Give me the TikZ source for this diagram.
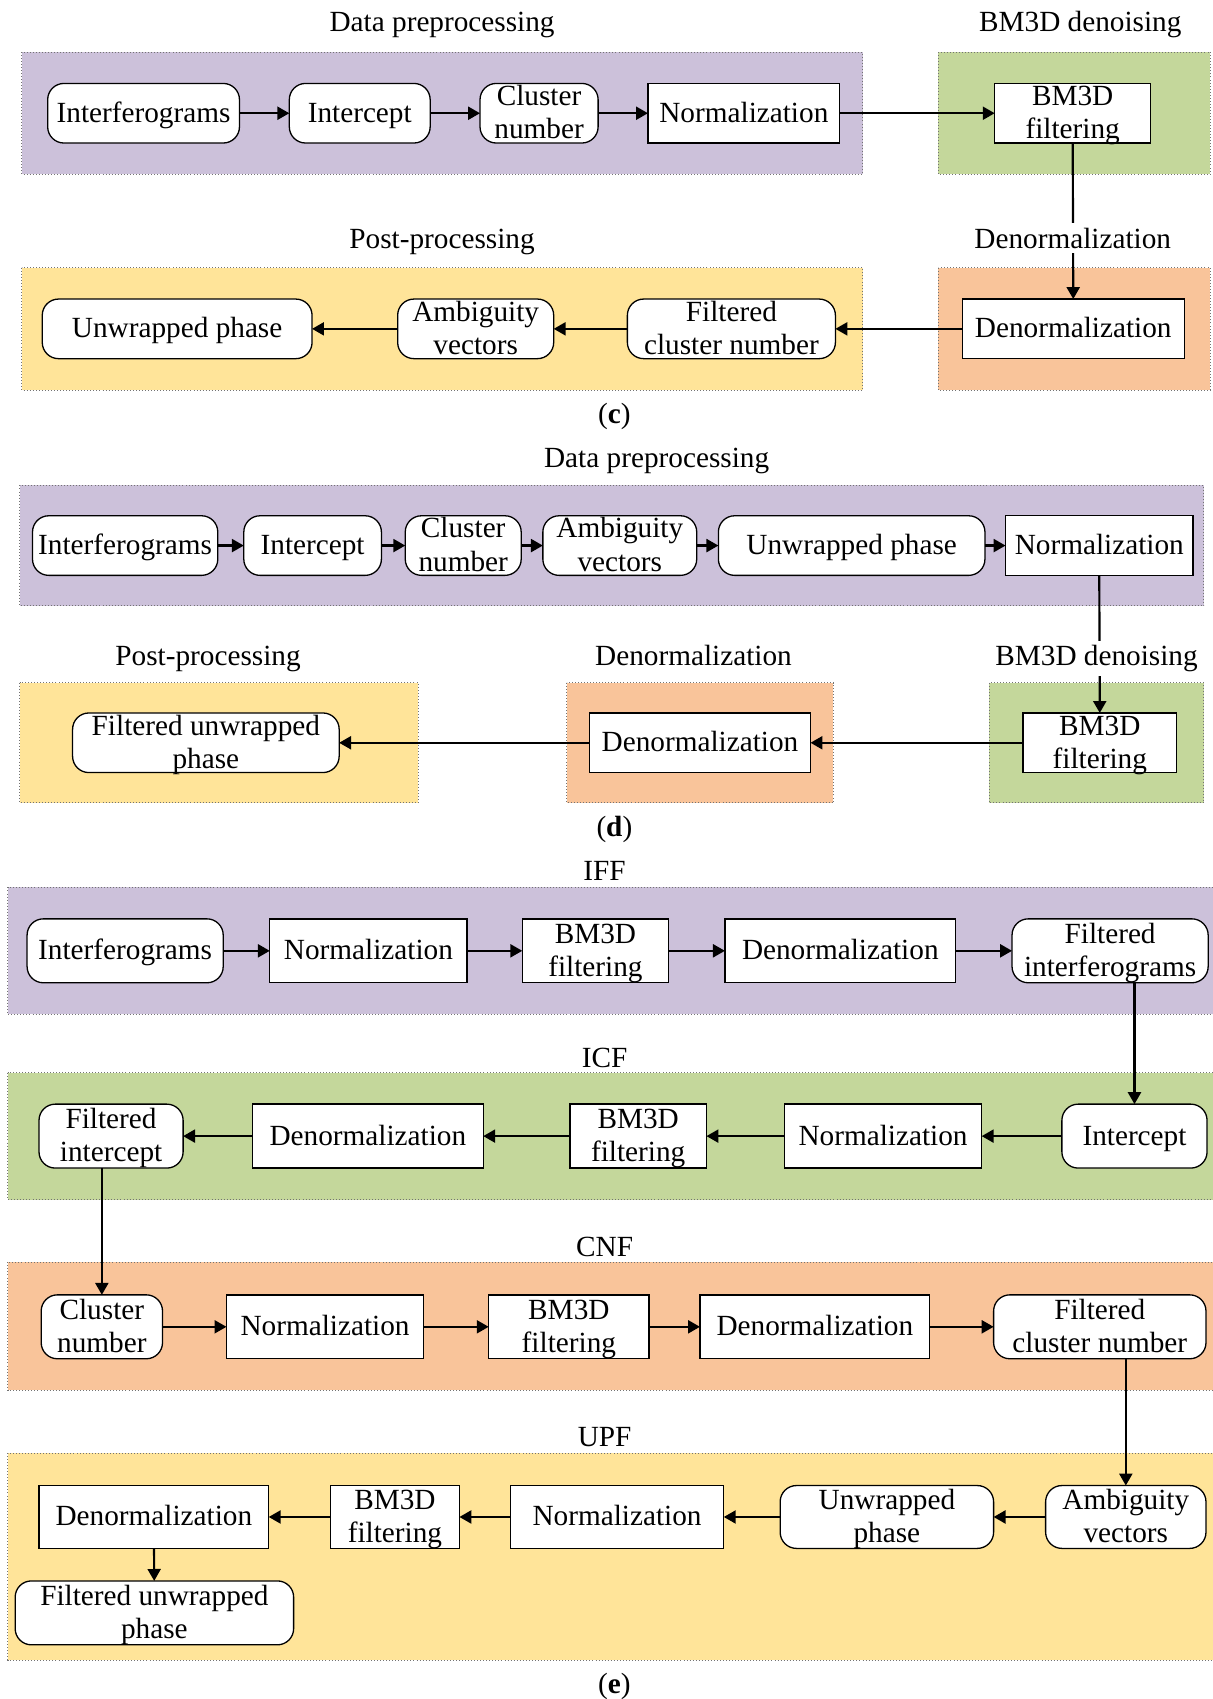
\documentclass[tikz,border=0pt]{standalone}
\usepackage{fontspec}
\setmainfont{Liberation Serif}
\usetikzlibrary{arrows.meta}
\definecolor{cpurple}{HTML}{CCC1DA}
\definecolor{cgreen}{HTML}{C4D79B}
\definecolor{corange}{HTML}{F9C49A}
\definecolor{cyellow}{HTML}{FFE499}
\newcommand\fsz{\fontsize{27pt}{32pt}\selectfont}
% one-line box: style, name, x1, x2, y1, y2, text
\newcommand\bxa[7]{%
  \node[#1,minimum width={(#4-#3)*1pt},minimum height={(#6-#5)*1pt}] (#2) at ({(#3+#4)/2},{(#5+#6)/2}) {};
  \node[txt] (#2-t) at ({(#3+#4)/2},{(#5+#6)/2+8.3}) {#7};}
% two-line box: style, name, x1, x2, y1, y2, line 1, line 2
\newcommand\bxb[8]{%
  \node[#1,minimum width={(#4-#3)*1pt},minimum height={(#6-#5)*1pt}] (#2) at ({(#3+#4)/2},{(#5+#6)/2}) {};
  \node[txt] (#2-a) at ({(#3+#4)/2},{(#5+#6)/2-7}) {#7};
  \node[txt] (#2-b) at ({(#3+#4)/2},{(#5+#6)/2+23.7}) {#8};}
\tikzset{
  base box/.style={draw, fill=white, line width=1.2pt, inner sep=0pt, outer sep=0pt},
  rb/.style={base box, rounded corners=15pt},
  sb/.style={base box},
  txt/.style={anchor=base, font=\fsz, inner sep=0pt},
  frame/.style={draw=black!55, dotted, line width=0.8pt},
  ttl/.style={anchor=base, font=\fsz, inner sep=1pt},
  ttlw/.style={ttl, fill=white, inner sep=4pt},
  arr/.style={line width=2pt, -{Triangle[length=11pt,width=12pt]}},
}
\begin{document}
\begin{tikzpicture}[x=1pt,y=-1pt]
\useasboundingbox (0,0) rectangle (1119,1568);
% ---------------- (c) frames
\fill[cpurple] (20,48) rectangle (796,161); \draw[frame] (20,48) rectangle (796,161);
\fill[cgreen] (866,48) rectangle (1117,161); \draw[frame] (866,48) rectangle (1117,161);
\fill[cyellow] (20,247) rectangle (796,360); \draw[frame] (20,247) rectangle (796,360);
\fill[corange] (866,247) rectangle (1117,360); \draw[frame] (866,247) rectangle (1117,360);
% ---------------- (d) frames
\fill[cpurple] (18,448) rectangle (1111,559); \draw[frame] (18,448) rectangle (1111,559);
\fill[cyellow] (18,630) rectangle (386,741); \draw[frame] (18,630) rectangle (386,741);
\fill[corange] (523,630) rectangle (769,741); \draw[frame] (523,630) rectangle (769,741);
\fill[cgreen] (913,630) rectangle (1111,741); \draw[frame] (913,630) rectangle (1111,741);
% ---------------- (e) frames
\fill[cpurple] (7,819) rectangle (1125,936); \draw[frame] (7,819) rectangle (1125,936);
\fill[cgreen] (7,990) rectangle (1125,1107); \draw[frame] (7,990) rectangle (1125,1107);
\fill[corange] (7,1165) rectangle (1125,1283); \draw[frame] (7,1165) rectangle (1125,1283);
\fill[cyellow] (7,1341) rectangle (1125,1532); \draw[frame] (7,1341) rectangle (1125,1532);

% ---------------- (c) nodes
\bxa{rb}{cI}{44}{221}{77}{132}{Interferograms}
\bxa{rb}{cT}{267}{397}{77}{132}{Intercept}
\bxb{rb}{cC}{443}{552}{77}{132}{Cluster}{number}
\bxa{sb}{cN}{598}{775}{77}{132}{Normalization}
\bxb{sb}{cB}{918}{1062}{77}{132}{BM3D}{filtering}
\bxa{sb}{cD}{888}{1093}{276}{331}{Denormalization}
\bxb{rb}{cF}{579}{771}{276}{331}{Filtered}{cluster number}
\bxb{rb}{cA}{367}{511}{276}{331}{Ambiguity}{vectors}
\bxa{rb}{cU}{39}{288}{276}{331}{Unwrapped phase}
\draw[arr] (cI) -- (cT);
\draw[arr] (cT) -- (cC);
\draw[arr] (cC) -- (cN);
\draw[arr] (cN) -- (cB);
\draw[arr] (cB.south) -- (cD.north);
\draw[arr] (cD) -- (cF);
\draw[arr] (cF) -- (cA);
\draw[arr] (cA) -- (cU);
\node[ttl] (cL1) at (408,29) {Data preprocessing};
\node[ttl] (cL2) at (997,29) {BM3D denoising};
\node[ttl] (cL3) at (408,229) {Post-processing};
\node[ttlw] (cL4) at (990,229) {Denormalization};
\node[ttl] (cCap) at (567,391) {(\textbf{c})};

% ---------------- (d) nodes
\bxa{rb}{dI}{30}{201}{476}{531}{Interferograms}
\bxa{rb}{dT}{225}{352}{476}{531}{Intercept}
\bxb{rb}{dC}{374}{481}{476}{531}{Cluster}{number}
\bxb{rb}{dA}{501}{643}{476}{531}{Ambiguity}{vectors}
\bxa{rb}{dU}{663}{909}{476}{531}{Unwrapped phase}
\bxa{sb}{dN}{928}{1101}{476}{531}{Normalization}
\bxb{sb}{dB}{944}{1086}{658}{713}{BM3D}{filtering}
\bxa{sb}{dD}{544}{748}{658}{713}{Denormalization}
\bxb{rb}{dF}{67}{313}{658}{713}{Filtered unwrapped}{phase}
\draw[arr] (dI) -- (dT);
\draw[arr] (dT) -- (dC);
\draw[arr] (dC) -- (dA);
\draw[arr] (dA) -- (dU);
\draw[arr] (dU) -- (dN);
\draw[arr] (dN.south) -- (dB.north);
\draw[arr] (dB) -- (dD);
\draw[arr] (dD) -- (dF);
\node[ttl] (dL1) at (606,431) {Data preprocessing};
\node[ttl] (dL2) at (192,614) {Post-processing};
\node[ttl] (dL3) at (640,614) {Denormalization};
\node[ttlw] (dL4) at (1012,614) {BM3D denoising};
\node[ttl] (dCap) at (567,772) {(\textbf{d})};

% ---------------- (e) IFF
\bxa{rb}{eIa}{25}{206}{848}{907}{Interferograms}
\bxa{sb}{eNa}{249}{431}{848}{907}{Normalization}
\bxb{sb}{eBa}{482}{617}{848}{907}{BM3D}{filtering}
\bxa{sb}{eDa}{669}{882}{848}{907}{Denormalization}
\bxb{rb}{eFa}{934}{1115}{848}{907}{Filtered}{interferograms}
\draw[arr] (eIa) -- (eNa);
\draw[arr] (eNa) -- (eBa);
\draw[arr] (eBa) -- (eDa);
\draw[arr] (eDa) -- (eFa);
% ICF
\bxa{rb}{eTb}{980}{1114}{1019}{1078}{Intercept}
\bxa{sb}{eNb}{724}{906}{1019}{1078}{Normalization}
\bxb{sb}{eBb}{526}{652}{1019}{1078}{BM3D}{filtering}
\bxa{sb}{eDb}{233}{446}{1019}{1078}{Denormalization}
\bxb{rb}{eFb}{36}{169}{1019}{1078}{Filtered}{intercept}
\draw[arr] (eFa.south -| eTb) -- (eTb.north);
\draw[arr] (eTb) -- (eNb);
\draw[arr] (eNb) -- (eBb);
\draw[arr] (eBb) -- (eDb);
\draw[arr] (eDb) -- (eFb);
% CNF
\bxb{rb}{eCc}{38}{150}{1195}{1254}{Cluster}{number}
\bxa{sb}{eNc}{209}{391}{1195}{1254}{Normalization}
\bxb{sb}{eBc}{451}{599}{1195}{1254}{BM3D}{filtering}
\bxa{sb}{eDc}{646}{858}{1195}{1254}{Denormalization}
\bxb{rb}{eFc}{917}{1113}{1195}{1254}{Filtered}{cluster number}
\draw[arr] (eFb.south -| eCc) -- (eCc.north);
\draw[arr] (eCc) -- (eNc);
\draw[arr] (eNc) -- (eBc);
\draw[arr] (eBc) -- (eDc);
\draw[arr] (eDc) -- (eFc);
% UPF
\bxb{rb}{eAd}{965}{1113}{1371}{1429}{Ambiguity}{vectors}
\bxb{rb}{eUd}{720}{917}{1371}{1429}{Unwrapped}{phase}
\bxa{sb}{eNd}{471}{668}{1371}{1429}{Normalization}
\bxb{sb}{eBd}{305}{424}{1371}{1429}{BM3D}{filtering}
\bxa{sb}{eDd}{36}{248}{1371}{1429}{Denormalization}
\bxb{rb}{eFd}{14}{271}{1459}{1518}{Filtered unwrapped}{phase}
\draw[arr] (eFc.south -| eAd) -- (eAd.north);
\draw[arr] (eAd) -- (eUd);
\draw[arr] (eUd) -- (eNd);
\draw[arr] (eNd) -- (eBd);
\draw[arr] (eBd) -- (eDd);
\draw[arr] (eDd) -- (eFd);
\node[ttl] (eL1) at (558,813) {IFF};
\node[ttl] (eL2) at (558,985) {ICF};
\node[ttl] (eL3) at (558,1160) {CNF};
\node[ttl] (eL4) at (558,1335) {UPF};
\node[ttl] (eCap) at (567,1563) {(\textbf{e})};
\end{tikzpicture}
\end{document}
